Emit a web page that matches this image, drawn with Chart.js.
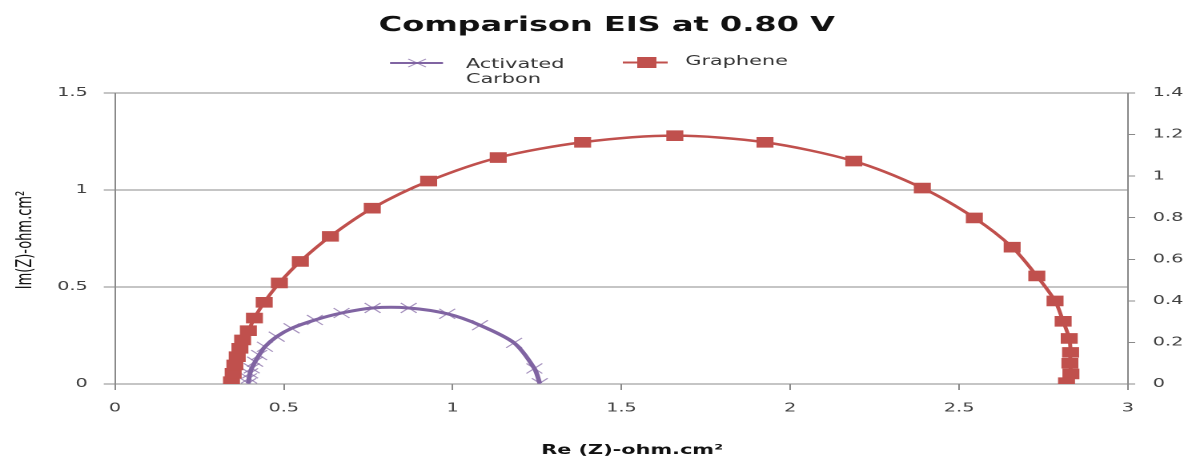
<!DOCTYPE html>
<html>
<head>
<meta charset="utf-8">
<script src="https://cdn.jsdelivr.net/npm/chart.js@4/dist/chart.umd.min.js"></script>
<style>
  html, body { margin: 0; padding: 0; background: #fff; overflow: hidden; }
  #wrap { width: 742px; height: 457px; transform: scaleX(1.60108); transform-origin: 0 0; }
</style>
</head>
<body>
<div id="wrap"><canvas id="myChart" width="742" height="457"></canvas></div>
<script>
// Nyquist data (ohm.cm2)
const acRe = [0.395, 0.397, 0.400, 0.405, 0.415, 0.427, 0.444, 0.479, 0.523, 0.592, 0.671, 0.763, 0.870, 0.984, 1.081, 1.182, 1.242, 1.258];
const acIm = [0.004, 0.029, 0.055, 0.081, 0.115, 0.149, 0.192, 0.244, 0.287, 0.330, 0.366, 0.392, 0.392, 0.362, 0.303, 0.212, 0.080, 0.004];

const grRe = [0.345, 0.350, 0.355, 0.362, 0.370, 0.378, 0.395, 0.413, 0.442, 0.487, 0.549, 0.638, 0.762, 0.929, 1.135, 1.385, 1.658, 1.925, 2.188, 2.391, 2.545, 2.657, 2.730, 2.784, 2.808, 2.826, 2.830, 2.828, 2.831, 2.818];
const grIm = [0.012, 0.055, 0.098, 0.141, 0.184, 0.227, 0.275, 0.340, 0.421, 0.521, 0.632, 0.761, 0.906, 1.046, 1.167, 1.246, 1.280, 1.246, 1.149, 1.010, 0.856, 0.705, 0.557, 0.428, 0.323, 0.235, 0.163, 0.107, 0.052, 0.007];

const seriesNames = ['Activated Carbon', 'Graphene'];
const chartTitle = 'Comparison EIS at 0.80 V';
const xTitle = 'Re (Z)-ohm.cm²';
const yTitle = 'Im(Z)-ohm.cm²';

const purple = 'rgb(128, 100, 162)';
const purpleLight = 'rgba(128, 100, 162, 0.7)';
const red = 'rgb(192, 80, 77)';
const axisGray = '#8a8a8a';
const tickFont = { family: 'DejaVu Sans', size: 12 };

function toPoints(xs, ys) {
  const out = [];
  for (let i = 0; i < xs.length; i++) out.push({ x: xs[i], y: ys[i] });
  return out;
}

// 1.0 -> "1", 0.5 -> "0.5"
function fmt(v) {
  return String(Number(v.toFixed(1)));
}

// title, legend and axis titles
const extras = {
  id: 'extras',
  afterDraw(chart) {
    const c = chart.ctx;
    c.save();
    c.fillStyle = '#111';
    c.font = 'bold 20px "DejaVu Sans"';
    c.textAlign = 'center';
    c.textBaseline = 'alphabetic';
    c.fillText(chartTitle, 379, 31);

    // legend
    c.lineWidth = 2;
    c.strokeStyle = purple;
    c.beginPath(); c.moveTo(243.6, 63); c.lineTo(276.7, 63); c.stroke();
    c.lineWidth = 1;
    c.strokeStyle = purpleLight;
    c.beginPath();
    c.moveTo(255, 59); c.lineTo(266, 67);
    c.moveTo(255, 67); c.lineTo(266, 59);
    c.stroke();
    c.lineWidth = 2;
    c.strokeStyle = red;
    c.beginPath(); c.moveTo(389, 62.5); c.lineTo(417, 62.5); c.stroke();
    c.fillStyle = red;
    c.fillRect(398, 57, 12, 11);

    c.fillStyle = '#333';
    c.font = '13px "DejaVu Sans"';
    c.textAlign = 'left';
    c.fillText('Activated', 291, 68);
    c.fillText('Carbon', 291, 83);
    c.fillText(seriesNames[1], 428, 65);

    // axis titles
    c.fillStyle = '#111';
    c.font = 'bold 13px "DejaVu Sans"';
    c.fillText(xTitle, 338, 454);

    c.font = '13px "DejaVu Sans"';
    c.translate(19.5, 240);
    c.rotate(-Math.PI / 2);
    c.textAlign = 'center';
    c.fillText(yTitle, 0, 0);
    c.restore();
  }
};

const ctx = document.getElementById('myChart');

new Chart(ctx, {
  type: 'scatter',
  data: {
    datasets: [
      {
        label: seriesNames[0],
        data: toPoints(acRe, acIm),
        showLine: true,
        borderColor: purple,
        borderWidth: 3,
        tension: 0.3,
        pointStyle: 'crossRot',
        pointRadius: 7,
        pointBorderColor: purpleLight,
        pointBorderWidth: 1,
        pointBackgroundColor: purpleLight,
        yAxisID: 'y',
        order: 2
      },
      {
        label: seriesNames[1],
        data: toPoints(grRe, grIm),
        showLine: true,
        borderColor: red,
        borderWidth: 2.5,
        tension: 0.3,
        pointStyle: 'rect',
        pointRadius: 7.5,
        pointBorderWidth: 0,
        pointBackgroundColor: red,
        pointBorderColor: red,
        yAxisID: 'y',
        order: 1
      }
    ]
  },
  options: {
    responsive: false,
    animation: false,
    devicePixelRatio: 2,
    layout: { padding: { top: 93, left: 0, right: 0, bottom: 0 } },
    plugins: {
      legend: { display: false },
      title: { display: false },
      tooltip: { enabled: false }
    },
    scales: {
      x: {
        type: 'linear',
        min: 0,
        max: 3,
        ticks: { stepSize: 0.5, color: '#404040', font: tickFont, padding: 11, callback: fmt },
        grid: { drawOnChartArea: false, color: axisGray, tickLength: 6 },
        border: { color: axisGray },
        afterFit(scale) { scale.height = 73; }
      },
      y: {
        type: 'linear',
        position: 'left',
        min: 0,
        max: 1.5,
        ticks: { stepSize: 0.5, color: '#404040', font: tickFont, padding: 10, callback: fmt },
        grid: { color: axisGray, tickLength: 7 },
        border: { color: axisGray },
        afterFit(scale) { scale.width = 71.8; }
      },
      y2: {
        type: 'linear',
        position: 'right',
        min: 0,
        max: 1.4,
        ticks: { stepSize: 0.2, color: '#404040', font: tickFont, padding: 11, callback: fmt },
        grid: { drawOnChartArea: false, color: axisGray, tickLength: 4.5 },
        border: { color: axisGray },
        afterFit(scale) { scale.width = 37.5; }
      }
    }
  },
  plugins: [extras]
});
</script>
</body>
</html>
